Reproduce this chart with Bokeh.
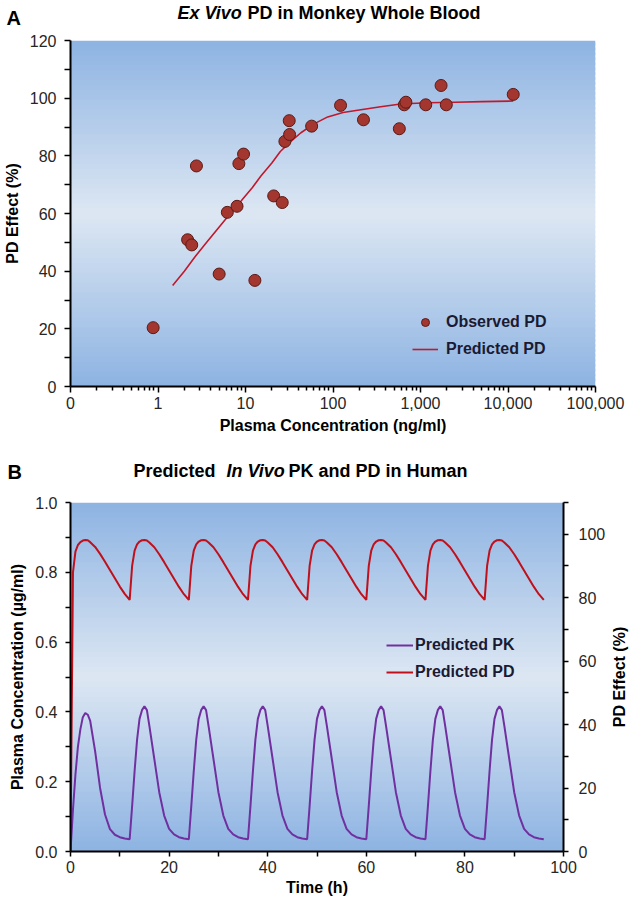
import math
from bokeh.plotting import figure
from bokeh.models import (Range1d, LinearAxis, FixedTicker, Label, Legend, LegendItem,
                          BoxAnnotation, NumeralTickFormatter)
from bokeh.layouts import column, row
from bokeh.embed import file_html
from bokeh.resources import INLINE

FONT = "Liberation Sans"

# ---------------- Panel A data (ex vivo PD, monkey whole blood) ----------------
obs_conc = [0.88, 2.18, 2.43, 2.75, 5.0, 6.2, 8.0, 8.4, 9.5, 12.8, 21.0, 26.3, 28.2,
            31.9, 31.6, 57.0, 122.0, 223.0, 573.0, 653.0, 681.0, 1148.0, 1718.0, 1972.0, 11480.0]
obs_pd = [20.4, 50.9, 49.1, 76.5, 39.0, 60.4, 62.5, 77.3, 80.6, 36.8, 66.1, 63.8, 85.0,
          87.4, 92.2, 90.3, 97.5, 92.5, 89.4, 97.7, 98.6, 97.7, 104.4, 97.7, 101.3]

pred_conc = [1.47, 2.0, 2.65, 3.6, 4.9, 6.7, 9.0, 12.0, 15.0, 20.0, 25.0, 33.0, 43.0,
             60.0, 87.0, 130.0, 208.0, 350.0, 593.0, 1200.0, 2500.0, 5000.0, 11500.0]
pred_pd = [35.0, 40.0, 45.0, 50.0, 55.0, 60.0, 64.5, 69.0, 73.0, 77.5, 81.5, 85.0, 88.0,
           91.0, 93.5, 95.0, 96.0, 97.0, 98.0, 98.4, 98.6, 98.8, 99.0]

a_x_ticks = [0.1, 1, 10, 100, 1000, 10000, 100000]
a_x_labels = ["0", "1", "10", "100", "1,000", "10,000", "100,000"]
a_y_ticks = [0, 20, 40, 60, 80, 100, 120]

# ---------------- Panel B data (predicted PK / PD in human) ----------------
time_h = [0, 0.5, 1, 1.5, 2, 2.5, 3, 3.5, 4, 5, 6, 7, 8, 9, 10, 11,
          12, 12.5, 13, 13.5, 14, 14.5, 15, 15.5, 16, 17, 18, 19, 20, 21, 22, 23,
          24, 24.5, 25, 25.5, 26, 26.5, 27, 27.5, 28, 29, 30, 31, 32, 33, 34, 35,
          36, 36.5, 37, 37.5, 38, 38.5, 39, 39.5, 40, 41, 42, 43, 44, 45, 46, 47,
          48, 48.5, 49, 49.5, 50, 50.5, 51, 51.5, 52, 53, 54, 55, 56, 57, 58, 59,
          60, 60.5, 61, 61.5, 62, 62.5, 63, 63.5, 64, 65, 66, 67, 68, 69, 70, 71,
          72, 72.5, 73, 73.5, 74, 74.5, 75, 75.5, 76, 77, 78, 79, 80, 81, 82, 83,
          84, 84.5, 85, 85.5, 86, 86.5, 87, 87.5, 88, 89, 90, 91, 92, 93, 94, 95,
          96]

pk_conc = [0.0, 0.12, 0.22, 0.30, 0.35, 0.385, 0.397, 0.392, 0.374, 0.287, 0.182, 0.106, 0.064, 0.048, 0.041, 0.037,
           0.035, 0.13, 0.23, 0.32, 0.38, 0.405, 0.416, 0.405, 0.36, 0.265, 0.17, 0.103, 0.065, 0.049, 0.041, 0.037,
           0.035, 0.13, 0.23, 0.32, 0.38, 0.405, 0.416, 0.405, 0.36, 0.265, 0.17, 0.103, 0.065, 0.049, 0.041, 0.037,
           0.035, 0.13, 0.23, 0.32, 0.38, 0.405, 0.416, 0.405, 0.36, 0.265, 0.17, 0.103, 0.065, 0.049, 0.041, 0.037,
           0.035, 0.13, 0.23, 0.32, 0.38, 0.405, 0.416, 0.405, 0.36, 0.265, 0.17, 0.103, 0.065, 0.049, 0.041, 0.037,
           0.035, 0.13, 0.23, 0.32, 0.38, 0.405, 0.416, 0.405, 0.36, 0.265, 0.17, 0.103, 0.065, 0.049, 0.041, 0.037,
           0.035, 0.13, 0.23, 0.32, 0.38, 0.405, 0.416, 0.405, 0.36, 0.265, 0.17, 0.103, 0.065, 0.049, 0.041, 0.037,
           0.035, 0.13, 0.23, 0.32, 0.38, 0.405, 0.416, 0.405, 0.36, 0.265, 0.17, 0.103, 0.065, 0.049, 0.041, 0.037,
           0.035]

pd_effect = [0.0, 88.0, 94.5, 96.6, 97.5, 98.0, 98.2, 98.1, 97.5, 96.0, 93.8, 91.3, 88.7, 86.1, 83.5, 81.2,
             79.3, 90.0, 94.8, 96.8, 97.7, 98.1, 98.2, 98.0, 97.4, 95.9, 93.7, 91.2, 88.6, 86.0, 83.4, 81.1,
             79.3, 90.0, 94.8, 96.8, 97.7, 98.1, 98.2, 98.0, 97.4, 95.9, 93.7, 91.2, 88.6, 86.0, 83.4, 81.1,
             79.3, 90.0, 94.8, 96.8, 97.7, 98.1, 98.2, 98.0, 97.4, 95.9, 93.7, 91.2, 88.6, 86.0, 83.4, 81.1,
             79.3, 90.0, 94.8, 96.8, 97.7, 98.1, 98.2, 98.0, 97.4, 95.9, 93.7, 91.2, 88.6, 86.0, 83.4, 81.1,
             79.3, 90.0, 94.8, 96.8, 97.7, 98.1, 98.2, 98.0, 97.4, 95.9, 93.7, 91.2, 88.6, 86.0, 83.4, 81.1,
             79.3, 90.0, 94.8, 96.8, 97.7, 98.1, 98.2, 98.0, 97.4, 95.9, 93.7, 91.2, 88.6, 86.0, 83.4, 81.1,
             79.3, 90.0, 94.8, 96.8, 97.7, 98.1, 98.2, 98.0, 97.4, 95.9, 93.7, 91.2, 88.6, 86.0, 83.4, 81.1,
             79.3]

b_x_ticks = [0, 20, 40, 60, 80, 100]
b_yl_ticks = [0.0, 0.2, 0.4, 0.6, 0.8, 1.0]
b_yr_ticks = [0, 20, 40, 60, 80, 100]

# ---------------- styling helpers ----------------
DARK = (141, 179, 226)
LIGHT = (221, 231, 243)
TICK_FS = "16px"
LABEL_FS = "16px"


def add_gradient(p, y0, y1, n=70):
    step = (y1 - y0) / n
    for i in range(n):
        t = abs((i + 0.5) / n - 0.5) * 2
        c = tuple(int(round(l + (d - l) * t)) for d, l in zip(DARK, LIGHT))
        top = y1 if i == n - 1 else y0 + (i + 1.6) * step
        p.add_layout(BoxAnnotation(bottom=y0 + i * step, top=top,
                                   fill_color="#%02x%02x%02x" % c, fill_alpha=1.0,
                                   line_color=None, level="image"))


def style_axis(ax, tick_out=6, minor_out=4, standoff=8, label=None, label_standoff=5):
    ax.axis_line_color = "black"
    ax.axis_line_width = 2
    ax.major_tick_line_color = "black"
    ax.major_tick_line_width = 1.5
    ax.minor_tick_line_color = "black"
    ax.minor_tick_line_width = 1.5
    ax.major_tick_out = tick_out
    ax.major_tick_in = 0
    ax.minor_tick_out = minor_out
    ax.minor_tick_in = 0
    ax.major_label_standoff = standoff
    ax.major_label_text_font = FONT
    ax.major_label_text_font_size = TICK_FS
    ax.major_label_text_color = "#262626"
    if label is not None:
        ax.axis_label = label
        ax.axis_label_standoff = label_standoff
        ax.axis_label_text_font = FONT
        ax.axis_label_text_font_size = LABEL_FS
        ax.axis_label_text_font_style = "bold"
        ax.axis_label_text_color = "black"


def blank_fig(w, h):
    f = figure(width=w, height=h, x_range=Range1d(0, w), y_range=Range1d(0, h),
               x_axis_location=None, y_axis_location=None, min_border=0,
               output_backend="svg", toolbar_location=None, frame_align=False)
    f.outline_line_color = None
    f.grid.visible = False
    return f


def lab(p, x, y, text, size=LABEL_FS, style="bold", align="center", angle=0.0):
    p.add_layout(Label(x=x, y=y, text=text, text_font=FONT, text_font_size=size,
                       text_font_style=style, text_align=align, text_baseline="middle",
                       angle=angle, text_color="black"))


# ---------------- Title strip A ----------------
tA = blank_fig(630, 30)
lab(tA, 177, 18, "Ex Vivo", size="18px", style="bold italic", align="left")
lab(tA, 247, 18, "PD in Monkey Whole Blood", size="18px", align="left")
lab(tA, 6, 13, "A", size="20px", align="left")

# ---------------- Panel A ----------------
pA = figure(width=630, height=418, x_axis_type="log",
            x_range=Range1d(0.1, 100000), y_range=Range1d(0, 120),
            min_border_left=68, min_border_right=35, min_border_top=10, min_border_bottom=62,
            output_backend="svg", toolbar_location=None, frame_align=False)
pA.outline_line_color = None
pA.grid.visible = False
add_gradient(pA, 0, 120)

r_pred_a = pA.line(pred_conc, pred_pd, line_color="#c0182c", line_width=1.6)
r_obs = pA.scatter(obs_conc, obs_pd, size=12, fill_color="#a3362e", line_color="#5b1a16",
                   line_width=1)

minor_log = [k * 10.0 ** d for d in range(-1, 5) for k in range(2, 10)]
pA.xaxis.ticker = FixedTicker(ticks=a_x_ticks, minor_ticks=minor_log)
pA.xaxis.major_label_overrides = dict(zip([float(v) for v in a_x_ticks], a_x_labels))
pA.yaxis.ticker = FixedTicker(ticks=a_y_ticks, minor_ticks=[10, 30, 50, 70, 90, 110])
style_axis(pA.xaxis[0], tick_out=6, minor_out=4, standoff=4,
           label="Plasma Concentration (ng/ml)", label_standoff=5)
style_axis(pA.yaxis[0], tick_out=6, minor_out=6, standoff=8,
           label="PD Effect (%)", label_standoff=6)

legA = Legend(items=[LegendItem(label="Observed PD", renderers=[r_obs]),
                     LegendItem(label="Predicted PD", renderers=[r_pred_a])],
              location=(342, 27), background_fill_alpha=0, border_line_color=None,
              padding=0, margin=0, spacing=7, glyph_width=26, glyph_height=20,
              label_height=20, label_standoff=8, label_text_font=FONT,
              label_text_font_style="bold", label_text_font_size="16px",
              label_text_color="#1a1a33")
pA.add_layout(legA)

# ---------------- Title strip B ----------------
tB = blank_fig(630, 44)
lab(tB, 133, 22, "Predicted", size="18px", align="left")
lab(tB, 226, 22, "In Vivo", size="18px", style="bold italic", align="left")
lab(tB, 288, 22, "PK and PD in Human", size="18px", align="left")
lab(tB, 7, 21, "B", size="20px", align="left")

# ---------------- Panel B ----------------
pB = figure(width=612, height=411, x_range=Range1d(0, 100), y_range=Range1d(0, 1),
            min_border_left=70, min_border_right=49, min_border_top=10, min_border_bottom=52,
            output_backend="svg", toolbar_location=None, frame_align=False)
pB.outline_line_color = None
pB.grid.visible = False
pB.extra_y_ranges = {"pd": Range1d(0, 110)}
add_gradient(pB, 0, 1)

r_pk = pB.line(time_h, pk_conc, line_color="#7030a0", line_width=2)
r_pd = pB.line(time_h, pd_effect, line_color="#c0101c", line_width=2, y_range_name="pd")

pB.xaxis.ticker = FixedTicker(ticks=b_x_ticks, minor_ticks=[10, 30, 50, 70, 90])
pB.yaxis.ticker = FixedTicker(ticks=b_yl_ticks, minor_ticks=[0.1, 0.3, 0.5, 0.7, 0.9])
pB.yaxis.formatter = NumeralTickFormatter(format="0.0")
style_axis(pB.xaxis[0], tick_out=5, minor_out=5, standoff=4,
           label="Time (h)", label_standoff=3)
style_axis(pB.yaxis[0], tick_out=5, minor_out=5, standoff=8,
           label="Plasma Concentration (\u00b5g/ml)", label_standoff=6)

ax_r = LinearAxis(y_range_name="pd",
                  ticker=FixedTicker(ticks=b_yr_ticks, minor_ticks=[10, 30, 50, 70, 90, 110]))
style_axis(ax_r, tick_out=5, minor_out=5, standoff=10)
pB.add_layout(ax_r, "right")

legB = Legend(items=[LegendItem(label="Predicted PK", renderers=[r_pk]),
                     LegendItem(label="Predicted PD", renderers=[r_pd])],
              location=(316, 169), background_fill_alpha=0, border_line_color=None,
              padding=0, margin=0, spacing=7, glyph_width=27, glyph_height=20,
              label_height=20, label_standoff=2, label_text_font=FONT,
              label_text_font_style="bold", label_text_font_size="16px",
              label_text_color="#1a1a33")
pB.add_layout(legB)

# right-hand axis title (reads bottom to top, like the reference)
sB = blank_fig(18, 411)
lab(sB, 7, 411 - 184.5, "PD Effect (%)", angle=math.pi / 2)

layout = column(tA, pA, tB, row(pB, sB))
open("out.html", "w").write(file_html(layout, INLINE, "PK/PD"))
